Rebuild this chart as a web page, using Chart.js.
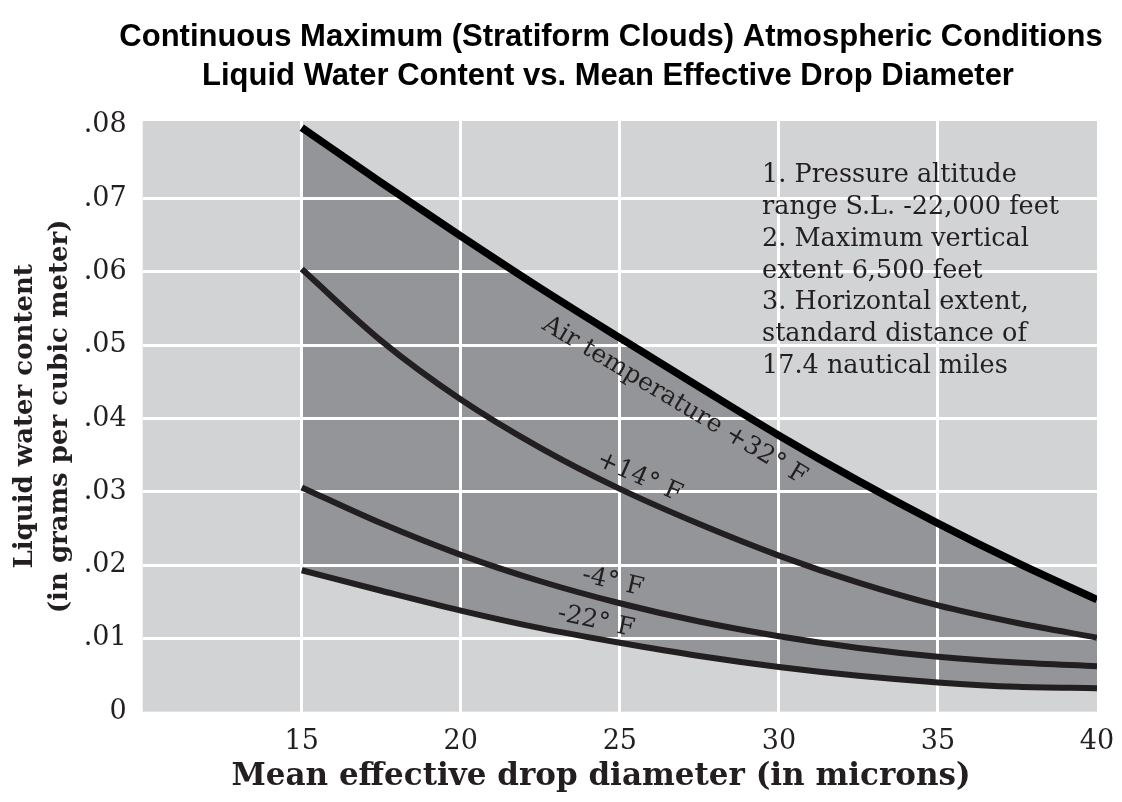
<!DOCTYPE html>
<html>
<head>
<meta charset="utf-8">
<title>Liquid Water Content vs. Mean Effective Drop Diameter</title>
<script src="https://cdn.jsdelivr.net/npm/chart.js@4.4.1/dist/chart.umd.min.js"></script>
<style>
  html, body { margin: 0; padding: 0; background: #fff; overflow: hidden; }
  #wrap { width: 1122px; height: 802px; position: relative; }
</style>
</head>
<body>
<div id="wrap"><canvas id="myChart"></canvas></div>
<script>
// mean effective drop diameter (microns), every 2.5
const diameters = [15, 17.5, 20, 22.5, 25, 27.5, 30, 32.5, 35, 37.5, 40];

// liquid water content (g per cubic meter) for each air temperature
const lwcPlus32  = [.0797, .0722, .0649, .0578, .0510, .0443, .0377, .0315, .0257, .0203, .0153];
const lwcPlus14  = [.0604, .0506, .0426, .0360, .0304, .0256, .0213, .0176, .0145, .0121, .0101];
const lwcMinus4  = [.0306, .0257, .0214, .0178, .0148, .0123, .0103, .0087, .0075, .0067, .0062];
const lwcMinus22 = [.0193, .0165, .0138, .0114, .0094, .0076, .0061, .0049, .0040, .0034, .0032];

const xTicks = [15, 20, 25, 30, 35, 40];
const yTicks = [0, .01, .02, .03, .04, .05, .06, .07, .08];
const yTickLabels = ["0", ".01", ".02", ".03", ".04", ".05", ".06", ".07", ".08"];

const titleLines = [
  "Continuous Maximum (Stratiform Clouds) Atmospheric Conditions",
  "Liquid Water Content vs. Mean Effective Drop Diameter"
];
const xTitle = "Mean effective drop diameter (in microns)";
const yTitle = ["Liquid water content", "(in grams per cubic meter)"];
const curveNames = ["Air temperature +32° F", "+14° F", "-4° F", "-22° F"];
const notes = [
  "1. Pressure altitude",
  "range S.L. -22,000 feet",
  "2. Maximum vertical",
  "extent 6,500 feet",
  "3. Horizontal extent,",
  "standard distance of",
  "17.4 nautical miles"
];

const ink = "#231f20";
const serif = "'DejaVu Serif', serif";

function pts(values) {
  return diameters.map((d, i) => ({ x: d, y: values[i] }));
}

// where the curve names sit (data units) and their slant in degrees
const nameSpots = [
  { x: 26.72, y: .0424, angle: 31 },
  { x: 25.61, y: .0320, angle: 24 },
  { x: 24.78, y: .0177, angle: 13 },
  { x: 24.25, y: .0123, angle: 12 }
];

const extras = {
  id: "extras",
  beforeDraw(chart) {
    const { ctx, chartArea: a } = chart;
    ctx.save();
    ctx.fillStyle = "#d1d3d4";
    ctx.fillRect(a.left, a.top, a.right - a.left, a.bottom - a.top);
    ctx.restore();
  },
  beforeDatasetsDraw(chart) {
    // white grid sits over the shaded band but under the curves
    chart.scales.x.drawGrid(chart.chartArea);
    chart.scales.y.drawGrid(chart.chartArea);
  },
  afterDraw(chart) {
    const { ctx, scales: { x, y } } = chart;
    ctx.save();
    ctx.fillStyle = "#000";
    ctx.textAlign = "center";
    ctx.textBaseline = "middle";
    ctx.font = "bold 31px 'Liberation Sans', Arial, sans-serif";
    ctx.fillText(titleLines[0], 611, 37);
    ctx.fillText(titleLines[1], 608, 76);

    ctx.fillStyle = ink;
    ctx.font = "bold 31px " + serif;
    ctx.fillText(xTitle, 601, 777);

    ctx.font = "25px " + serif;
    nameSpots.forEach((s, i) => {
      ctx.save();
      ctx.translate(x.getPixelForValue(s.x), y.getPixelForValue(s.y));
      ctx.rotate(s.angle * Math.PI / 180);
      ctx.fillText(curveNames[i], 0, 0);
      ctx.restore();
    });

    ctx.textAlign = "left";
    ctx.textBaseline = "alphabetic";
    ctx.font = "25.5px " + serif;
    const nx = x.getPixelForValue(29.47);
    const ny = y.getPixelForValue(.0723);
    notes.forEach((line, i) => ctx.fillText(line, nx, ny + i * 31.9));
    ctx.restore();
  }
};

const gridColor = (edges) => (c) => edges.includes(c.tick.value) ? "rgba(0,0,0,0)" : "#ffffff";

new Chart(document.getElementById("myChart"), {
  type: "line",
  data: {
    datasets: [
      { label: curveNames[0], data: pts(lwcPlus32), borderColor: "#000", borderWidth: 7.5,
        fill: 3, backgroundColor: "#939598" },
      { label: curveNames[1], data: pts(lwcPlus14), borderColor: ink, borderWidth: 6, fill: false },
      { label: curveNames[2], data: pts(lwcMinus4), borderColor: ink, borderWidth: 6, fill: false },
      { label: curveNames[3], data: pts(lwcMinus22), borderColor: ink, borderWidth: 6, fill: false }
    ]
  },
  options: {
    responsive: true,
    maintainAspectRatio: false,
    animation: false,
    layout: { padding: { top: 121, right: 25, left: 0, bottom: 0 } },
    elements: {
      point: { radius: 0, hoverRadius: 0 },
      line: { cubicInterpolationMode: "monotone" }
    },
    plugins: {
      legend: { display: false },
      tooltip: { enabled: false },
      filler: { drawTime: "beforeDatasetsDraw" }
    },
    scales: {
      x: {
        type: "linear",
        min: 10,
        max: 40,
        afterBuildTicks: (s) => { s.ticks = xTicks.map(v => ({ value: v })); },
        afterFit: (s) => { s.height = 90.3; s.paddingLeft = 0; s.paddingRight = 0; },
        grid: { color: gridColor([10, 40]), lineWidth: 3, drawTicks: false },
        border: { display: false },
        ticks: {
          autoSkip: false, maxRotation: 0, padding: 14,
          color: ink, font: { family: serif, size: 27 },
          callback: (v) => String(v)
        }
      },
      y: {
        min: 0,
        max: .0806,
        afterBuildTicks: (s) => { s.ticks = yTicks.map(v => ({ value: v })); },
        afterFit: (s) => { s.width = 142.7; },
        grid: { color: gridColor([0, .08]), lineWidth: 3, drawTicks: false },
        border: { display: false },
        ticks: {
          padding: 16,
          color: ink, font: { family: serif, size: 27 },
          callback: (v, i) => yTickLabels[i]
        },
        title: {
          display: true, text: yTitle, color: ink,
          font: { family: serif, size: 26, weight: "bold", lineHeight: 1.35 },
          padding: { top: 7.5, bottom: 0 }
        }
      }
    }
  },
  plugins: [extras]
});
</script>
</body>
</html>
